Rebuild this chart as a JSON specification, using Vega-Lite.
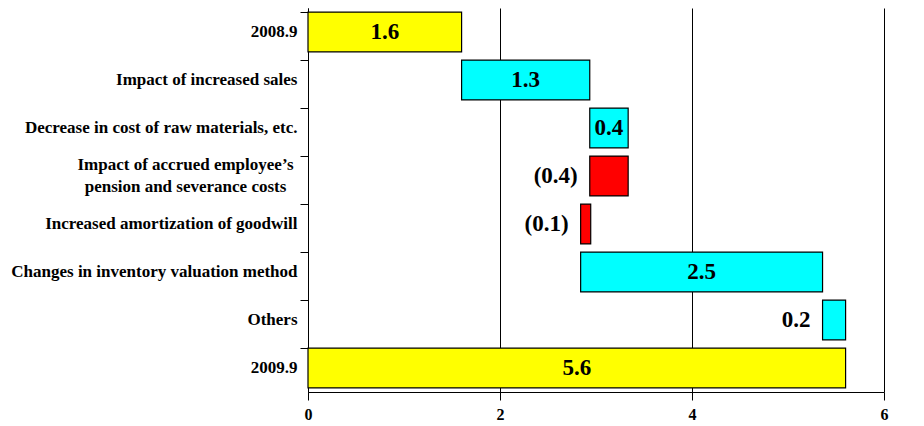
{
  "$schema": "https://vega.github.io/schema/vega-lite/v6.json",
  "autosize": {"type": "none"},
  "padding": {"left": 308, "top": 8, "right": 40, "bottom": 34},
  "width": 576,
  "height": 384,
  "background": "white",
  "config": {
    "view": {"stroke": null},
    "font": "Liberation Serif"
  },
  "data": {
    "values": [
      {"category": "2008.9", "start": 0, "end": 1.6, "label": "1.6", "kind": "total"},
      {"category": "Impact of increased sales", "start": 1.6, "end": 2.935, "label": "1.3", "kind": "increase"},
      {"category": "Decrease in cost of raw materials, etc.", "start": 2.935, "end": 3.335, "label": "0.4", "kind": "increase"},
      {"category": "Impact of accrued employee’s pension and severance costs", "start": 2.935, "end": 3.335, "label": "(0.4)", "kind": "decrease"},
      {"category": "Increased amortization of goodwill", "start": 2.84, "end": 2.945, "label": "(0.1)", "kind": "decrease"},
      {"category": "Changes in inventory valuation method", "start": 2.84, "end": 5.36, "label": "2.5", "kind": "increase"},
      {"category": "Others", "start": 5.36, "end": 5.6, "label": "0.2", "kind": "increase"},
      {"category": "2009.9", "start": 0, "end": 5.6, "label": "5.6", "kind": "total"}
    ]
  },
  "encoding": {
    "y": {
      "field": "category",
      "type": "nominal",
      "sort": ["2008.9", "Impact of increased sales", "Decrease in cost of raw materials, etc.", "Impact of accrued employee’s pension and severance costs", "Increased amortization of goodwill", "Changes in inventory valuation method", "Others", "2009.9"],
      "scale": {"paddingInner": 0.17, "paddingOuter": 0.085},
      "axis": {
        "title": null,
        "bandPosition": 0,
        "domainColor": "black",
        "tickColor": "black",
        "tickSize": 8,
        "labelPadding": {"condition": {"test": "indexof(datum.value, 'pension') >= 0", "value": 115}, "value": 3},
        "labelAlign": {"condition": {"test": "indexof(datum.value, 'pension') >= 0", "value": "center"}, "value": "right"},
        "labelOffset": {"condition": {"test": "indexof(datum.value, 'pension') >= 0", "value": -11}, "value": 0},
        "labelFont": "Liberation Serif",
        "labelFontWeight": "bold",
        "labelFontSize": 17,
        "labelColor": "black",
        "labelLimit": 400,
        "labelLineHeight": 22,
        "labelExpr": "datum.value == 'Impact of accrued employee’s pension and severance costs' ? ['Impact of accrued employee’s', 'pension and severance costs'] : datum.value"
      }
    }
  },
  "layer": [
    {
      "mark": {"type": "bar", "stroke": "black", "strokeWidth": 1.2},
      "encoding": {
        "x": {
          "field": "start",
          "type": "quantitative",
          "scale": {"domain": [0, 6], "nice": false},
          "axis": {
            "title": null,
            "values": [0, 2, 4, 6],
            "format": "d",
            "grid": true,
            "gridColor": "black",
            "gridOpacity": 1,
            "gridWidth": 1,
            "domainColor": "black",
            "tickColor": "black",
            "tickSize": 8,
            "labelPadding": 6,
            "labelFont": "Liberation Serif",
            "labelFontWeight": "bold",
            "labelFontSize": 16,
            "labelColor": "black",
            "labelFlush": false
          }
        },
        "x2": {"field": "end"},
        "color": {
          "field": "kind",
          "type": "nominal",
          "scale": {"domain": ["total", "increase", "decrease"], "range": ["#FFFF00", "#00FFFF", "#FF0000"]},
          "legend": null
        }
      }
    },
    {
      "transform": [
        {"filter": {"field": "category", "oneOf": ["2008.9", "Impact of increased sales", "Decrease in cost of raw materials, etc.", "Changes in inventory valuation method", "2009.9"]}},
        {"fold": ["start", "end"], "as": ["edge", "pos"]},
        {"aggregate": [{"op": "mean", "field": "pos", "as": "mid"}], "groupby": ["category", "label"]}
      ],
      "mark": {"type": "text", "font": "Liberation Serif", "fontWeight": "bold", "fontSize": 23, "baseline": "middle", "align": "center", "color": "black"},
      "encoding": {
        "x": {"field": "mid", "type": "quantitative"},
        "text": {"field": "label"}
      }
    },
    {
      "transform": [{"filter": {"field": "category", "oneOf": ["Impact of accrued employee’s pension and severance costs", "Increased amortization of goodwill", "Others"]}}],
      "mark": {"type": "text", "font": "Liberation Serif", "fontWeight": "bold", "fontSize": 23, "baseline": "middle", "align": "right", "dx": -12, "color": "black"},
      "encoding": {
        "x": {"field": "start", "type": "quantitative"},
        "text": {"field": "label"}
      }
    }
  ]
}
